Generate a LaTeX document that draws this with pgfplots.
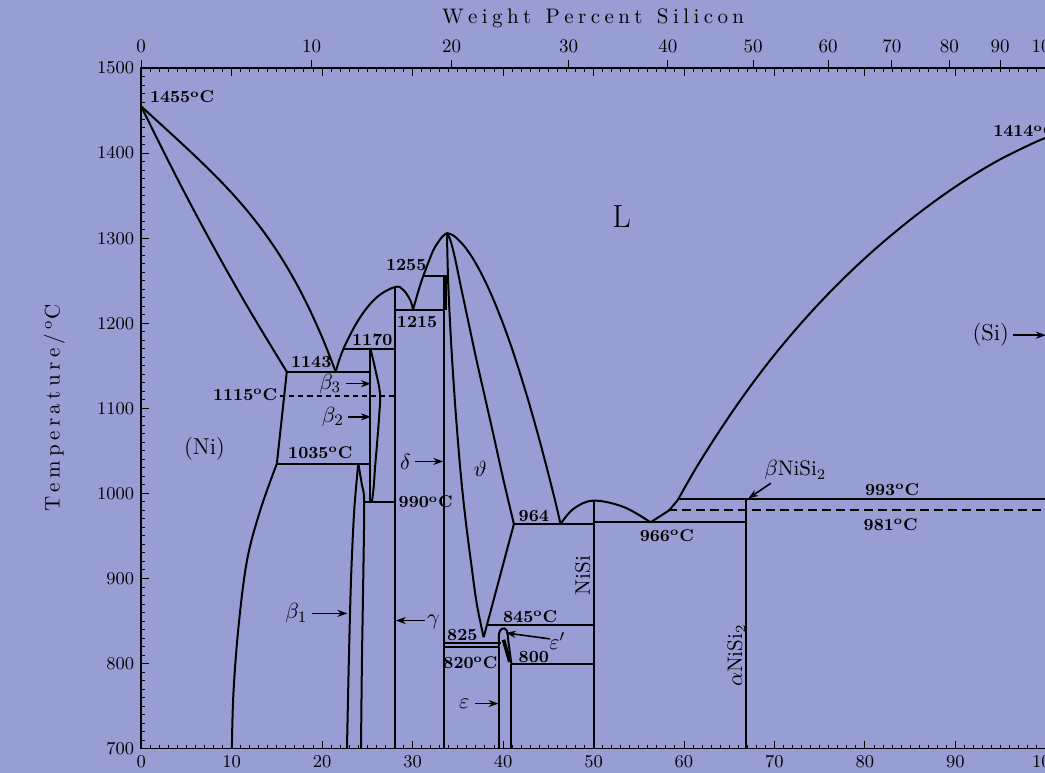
\documentclass[border=0pt]{standalone}
\usepackage{fontspec}
\usepackage{pgfplots}
\pgfplotsset{compat=1.18}
\pgfplotsset{/pgf/number format/1000 sep={}}
\usetikzlibrary{arrows.meta,backgrounds}
\definecolor{bgc}{RGB}{152,158,212}
\newcommand{\dC}{\textsuperscript{o}C}
\newcommand{\lb}{\fontsize{8.5}{10}\selectfont\bfseries}
\newcommand{\gr}{\fontsize{11}{12}\selectfont}
\def\spaced#1{\spacedi#1\relax}
\def\spacedi#1{\ifx#1\relax\else#1\kern2.2pt\expandafter\spacedi\fi}
\tikzset{ph/.style={black,line width=1pt},
  ar/.style={black,line width=0.8pt,-{Stealth[length=5pt,width=3.5pt]}}}
\begin{document}
\begin{tikzpicture}
\begin{axis}[
  x=4.52pt, y=0.425pt,
  xmin=0, xmax=100, ymin=700, ymax=1500,
  clip=false,
  axis line style={line width=0.7pt},
  xtick={0,10,...,100}, minor x tick num=9,
  ytick={700,800,...,1500}, minor y tick num=9,
  ytick pos=left,
  tick align=inside,
  major tick length=4pt, minor tick length=2pt,
  tick style={black, line width=0.5pt},
  tick label style={font=\fontsize{9.5}{11}\selectfont},
]
\coordinate (BL) at (axis cs:-15.6,671.8);
\coordinate (TR) at (axis cs:99.9,1580);
% Ni liquidus and solidus
\addplot[ph,smooth,tension=0.6] coordinates {(0,1455)(2,1435.6)(4,1416.1)(6,1396.2)(8,1375.5)(10,1353.3)(12,1328.7)(14,1300.8)(16,1268.2)(18,1229.7)(20,1183.6)(21.5,1143)};
\addplot[ph,smooth,tension=0.6] coordinates {(0,1455)(4,1370)(8,1290)(12,1215)(16.1,1143)};
% Ni solvus
\addplot[ph] coordinates {(16.1,1143)(15.0,1035)};
\addplot[ph,smooth,tension=0.6] coordinates {(15.0,1035)(13.16,980)(11.7,921)(10.76,843)(10.2,765)(10.03,700)};
% isotherms
\addplot[ph] coordinates {(16.1,1143)(25.3,1143)};
\addplot[ph] coordinates {(15.0,1035)(25.3,1035)};
\addplot[ph,dash pattern=on 2.5pt off 2pt] coordinates {(15.4,1115)(28.1,1115)};
\addplot[ph] coordinates {(22.4,1170)(28.1,1170)};
\addplot[ph] coordinates {(28.1,1216)(33.45,1216)};
\addplot[ph] coordinates {(31.2,1256)(33.8,1256)};
\addplot[ph] coordinates {(24.65,990)(28.1,990)};
% beta liquidus
\addplot[ph,smooth,tension=0.6] coordinates {(21.5,1143)(22.4,1171)(24.2,1207)(26.1,1231)(28.1,1242.7)(29.0,1239)(29.75,1227)(30.05,1216)};
\addplot[ph,smooth,tension=0.5] coordinates {(30.05,1216)(30.7,1240)(31.2,1256)(32.3,1286)(33.26,1301.5)(33.8,1306)};
% beta phases
\addplot[ph] coordinates {(25.3,1170)(25.3,990)};
\addplot[ph,smooth,tension=0.6] coordinates {(25.35,1170)(25.9,1145)(26.4,1117)(26.3,1090)(26.07,1058)(25.85,1030)(25.7,1007)(25.5,990)};
\addplot[ph,smooth,tension=0.5] coordinates {(24.0,1035)(23.55,980)(23.2,900)(22.95,800)(22.75,700)};
\addplot[ph,smooth,tension=0.5] coordinates {(24.0,1035)(24.4,1010)(24.65,990)(24.55,900)(24.4,800)(24.3,700)};
% gamma, delta
\addplot[ph] coordinates {(28.1,1242.7)(28.1,700)};
\addplot[ph] coordinates {(33.45,1256)(33.45,700)};
\addplot[black,line width=1.6pt] coordinates {(33.6,1256)(33.6,1216)};
% theta
\addplot[ph,smooth,tension=0.6] coordinates {(33.8,1306)(33.9,1260)(34.05,1220)(34.3,1170)(34.6,1120)(34.95,1070)(35.35,1020)(35.85,970)(36.45,920)(37.1,870)(37.86,831)};
\addplot[ph,smooth,tension=0.6] coordinates {(33.8,1306)(34.2,1297)(34.7,1276)(35.3,1245)(36.0,1210)(37.0,1160)(38.0,1113)(39.0,1066)(40.0,1018)(41.2,964)};
\addplot[ph] coordinates {(41.2,964)(37.86,831)};
% liquidus right of theta
\addplot[ph,smooth,tension=0.6] coordinates {(33.8,1306)(34.3,1304.3)(34.8,1300.8)(35.8,1289.5)(36.8,1273.8)(37.8,1254.3)(38.8,1231.3)(39.8,1205.1)(40.8,1176.1)(41.8,1143.7)(42.8,1108.9)(43.8,1071.5)(44.8,1031.6)(45.8,989.4)(46.35,964)};
\addplot[ph] coordinates {(41.2,964)(50,964)};
% NiSi dome
\addplot[ph,smooth,tension=0.6] coordinates {(46.35,964)(47.8,982)(50,991.5)(53.35,984)(56.3,966)};
\addplot[ph] coordinates {(50,991.5)(50,700)};
\addplot[ph] coordinates {(50,966)(66.8,966)};
% NiSi2 and Si liquidus
\addplot[ph] coordinates {(56.3,966)(58.35,980)(59.3,992)};
\addplot[ph,smooth,tension=0.6] coordinates {(59.3,992)(61.84,1038.8)(65.52,1098.8)(69.21,1152.3)(72.9,1199.5)(76.58,1241.5)(80.28,1279.2)(83.96,1312.7)(87.64,1342.9)(91.34,1369.9)(95.02,1393.1)(98.71,1412.3)(100,1418)};
\addplot[ph] coordinates {(59.3,993)(100,993)};
\addplot[ph,dash pattern=on 4.5pt off 2.5pt] coordinates {(58.2,981)(100,981)};
\addplot[ph] coordinates {(66.8,993)(66.8,700)};
% epsilon region
\addplot[ph] coordinates {(38.2,845)(50,845)};
\addplot[ph] coordinates {(33.45,824)(39.8,824)};
\addplot[ph] coordinates {(33.45,819)(39.55,819)};
\addplot[ph] coordinates {(40.9,800)(50,800)};
\addplot[ph] coordinates {(39.55,819)(39.55,700)};
\addplot[ph] coordinates {(40.87,800)(40.87,700)};
\addplot[ph,smooth,tension=0.6] coordinates {(39.55,820)(39.55,835)(39.9,841)(40.4,839)(40.6,825)(40.85,805)(40.9,800)};
\addplot[black,line width=1.8pt] coordinates {(40.05,828)(40.4,815)(40.75,802)};
% labels
\node[anchor=west] at (axis cs:0.2,1466) {\lb 1455\dC};
\node at (axis cs:18.8,1154) {\lb 1143};
\node at (axis cs:25.55,1180) {\lb 1170};
\node at (axis cs:29.3,1268) {\lb 1255};
\node at (axis cs:30.5,1201) {\lb 1215};
\node[anchor=east,inner sep=1pt] at (axis cs:15.3,1116) {\lb 1115\dC};
\node at (axis cs:19.8,1048) {\lb 1035\dC};
\node[anchor=west,inner sep=1pt] at (axis cs:28.2,990) {\lb 990\dC};
\node at (axis cs:43.4,974) {\lb 964};
\node at (axis cs:58.1,950.6) {\lb 966\dC};
\node at (axis cs:83.0,1004.7) {\lb 993\dC};
\node at (axis cs:82.85,963.5) {\lb 981\dC};
\node[anchor=west] at (axis cs:93.4,1426) {\lb 1414\dC};
\node at (axis cs:43.0,855) {\lb 845\dC};
\node at (axis cs:35.5,834) {\lb 825};
\node at (axis cs:36.4,801) {\lb 820\dC};
\node at (axis cs:43.4,808) {\lb 800};
\node at (axis cs:7.0,1053) {\fontsize{11.5}{13}\selectfont (Ni)};
\node at (axis cs:93.9,1186) {\fontsize{11.5}{13}\selectfont (Si)};
\draw[ar] (axis cs:96.35,1186) -- (axis cs:100,1186);
\node at (axis cs:53.1,1326) {\fontsize{16}{18}\selectfont L};
\node[rotate=90] at (axis cs:48.8,903.5) {\fontsize{10.5}{12}\selectfont NiSi};
\node[rotate=90] at (axis cs:65.8,809.4) {\fontsize{10.5}{12}\selectfont $\alpha$NiSi\textsubscript{2}};
\node at (axis cs:72.3,1027) {\fontsize{10.5}{12}\selectfont $\beta$NiSi\textsubscript{2}};
\draw[ar] (axis cs:69.6,1012) -- (axis cs:67.1,994);
\node at (axis cs:20.9,1129) {\gr $\beta_3$};
\draw[ar] (axis cs:22.6,1129) -- (axis cs:25.4,1129);
\node at (axis cs:21.2,1090) {\gr $\beta_2$};
\draw[ar] (axis cs:22.9,1090) -- (axis cs:25.4,1090);
\node at (axis cs:17.15,859) {\gr $\beta_1$};
\draw[ar] (axis cs:18.9,859) -- (axis cs:22.8,859);
\node at (axis cs:29.2,1036.5) {\gr $\delta$};
\draw[ar] (axis cs:30.3,1037.6) -- (axis cs:33.4,1037.6);
\node at (axis cs:37.5,1029) {\gr $\vartheta$};
\node at (axis cs:32.3,849.4) {\gr $\gamma$};
\draw[ar] (axis cs:31.4,850.6) -- (axis cs:28.15,850.6);
\node at (axis cs:35.7,753) {\gr $\varepsilon$};
\draw[ar] (axis cs:36.9,753) -- (axis cs:39.5,753);
\node at (axis cs:46.0,826) {\gr $\varepsilon'$};
\draw[ar] (axis cs:45.2,829) -- (axis cs:40.3,836);
\node[rotate=90] at (axis cs:-9.6,1100) {\fontsize{10.5}{12}\selectfont\spaced{Temperature/}\textsuperscript{o}C};
\node at (axis cs:50.2,1559) {\fontsize{10.5}{12}\selectfont\spaced{Weight}\hspace{5pt}\spaced{Percent}\hspace{5pt}\spaced{Silicon}};
\end{axis}
\begin{axis}[
  x=4.52pt, y=0.425pt,
  xmin=0, xmax=100, ymin=700, ymax=1500,
  axis x line*=top, axis y line=none,
  axis line style={line width=0.7pt},
  xtick={0,18.84,34.31,47.24,58.21,67.63,75.94,82.98,89.32,94.95,100},
  xticklabels={0,10,20,30,40,50,60,70,80,90,100},
  tick align=outside, major tick length=4pt,
  tick style={black, line width=0.5pt},
  tick label style={font=\fontsize{9.5}{11}\selectfont},
]
\addplot[draw=none] coordinates {(50,1000)};
\end{axis}
\pgfresetboundingbox
\path[use as bounding box] (BL) rectangle (TR);
\begin{scope}[on background layer]
\fill[bgc] (BL) rectangle (TR);
\end{scope}
\end{tikzpicture}
\end{document}
